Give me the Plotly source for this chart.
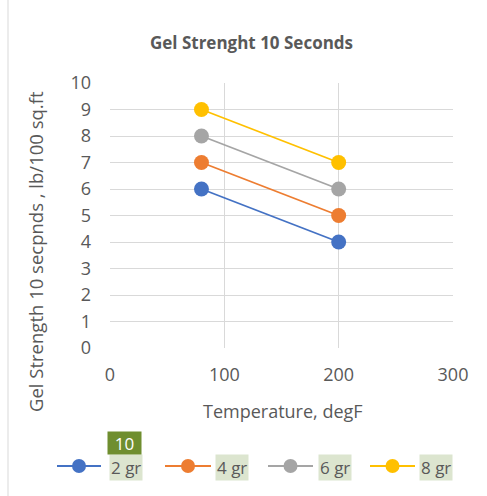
import plotly.graph_objects as go

# Gel strength (10 s) readings at two temperatures for each additive dosage
temperature_degF = [80, 200]
series_names = ["2 gr", "4 gr", "6 gr", "8 gr"]
gel_2gr = [6, 4]
gel_4gr = [7, 5]
gel_6gr = [8, 6]
gel_8gr = [9, 7]
series_colors = ["#4472C4", "#ED7D31", "#A5A5A5", "#FFC000"]

x_ticks = [0, 100, 200, 300]
y_ticks = list(range(0, 11))

FONT = "Open Sans"
TEXT = "#595959"

W, H = 487, 496
L, R, T, B = 110, 34, 83, 148
PW, PH = W - L - R, H - T - B


def px_x(p):
    """Horizontal page pixel -> paper fraction."""
    return (p - L) / PW


def px_y(p):
    """Vertical page pixel -> paper fraction."""
    return (H - B - p) / PH


fig = go.Figure()
for name, vals, col in zip(series_names, [gel_2gr, gel_4gr, gel_6gr, gel_8gr], series_colors):
    fig.add_trace(go.Scatter(
        x=temperature_degF, y=vals, name=name, mode="lines+markers",
        line=dict(color=col, width=1.8),
        marker=dict(color=col, size=15, line=dict(width=0)),
        showlegend=False,
    ))

fig.update_layout(
    width=W, height=H,
    margin=dict(l=L, r=R, t=T, b=B),
    paper_bgcolor="white", plot_bgcolor="white",
    font=dict(family=FONT, color=TEXT),
    title=dict(text="<b>Gel Strenght 10 Seconds</b>", x=px_x(251.5), xref="paper",
               xanchor="center", y=1 - 43 / H, yanchor="middle",
               font=dict(size=17, color=TEXT, family=FONT)),
    xaxis=dict(range=[0, 300], tickvals=x_ticks, showgrid=True, gridcolor="#D9D9D9",
               zeroline=False, showline=False, ticks="", tickfont=dict(size=18, color=TEXT),
               ticklabelstandoff=14),
    yaxis=dict(range=[0, 10], tickvals=y_ticks, showgrid=True, gridcolor="#D9D9D9",
               zeroline=False, showline=False, ticks="", tickfont=dict(size=18, color=TEXT),
               ticklabelstandoff=18),
    showlegend=False,
)

# axis titles
fig.add_annotation(xref="paper", yref="paper", x=px_x(282.5), y=px_y(411),
                   xanchor="center", yanchor="middle", showarrow=False,
                   text="Temperature, degF", font=dict(size=18, color=TEXT, family=FONT))
fig.add_annotation(xref="paper", yref="paper", x=px_x(35), y=px_y(252),
                   xanchor="center", yanchor="middle", showarrow=False, textangle=-90,
                   text="Gel Strength 10 secpnds , lb/100 sq.ft",
                   font=dict(size=18.5, color=TEXT, family=FONT))

# left edge of the chart frame
fig.add_shape(type="line", xref="paper", yref="paper", x0=px_x(8), x1=px_x(8),
              y0=px_y(H + 5), y1=px_y(-5), line=dict(color="#D9D9D9", width=1), layer="below")

# legend row: line sample, marker and highlighted label for each series
legend_y = 466
legend_lines = [(57, 101), (165, 211), (268, 313), (370, 415)]
legend_text_x = [109, 215, 318, 419]
for name, col, (lx0, lx1), tx in zip(series_names, series_colors, legend_lines, legend_text_x):
    fig.add_shape(type="line", xref="paper", yref="paper",
                  x0=px_x(lx0), x1=px_x(lx1), y0=px_y(legend_y), y1=px_y(legend_y),
                  line=dict(color=col, width=1.8))
    cx = px_x((lx0 + lx1) / 2)
    fig.add_shape(type="circle", xref="paper", yref="paper",
                  xsizemode="pixel", ysizemode="pixel",
                  xanchor=cx, yanchor=px_y(legend_y),
                  x0=-7, x1=7, y0=-7, y1=7,
                  fillcolor=col, line=dict(width=0))
    fig.add_annotation(xref="paper", yref="paper", x=px_x(tx), y=px_y(legend_y + 1),
                       xanchor="left", yanchor="middle", text=name, showarrow=False,
                       bgcolor="#DCE5CF", borderpad=1,
                       font=dict(size=17, color=TEXT, family=FONT))

fig.add_annotation(xref="paper", yref="paper", x=px_x(107), y=px_y(442.5),
                   xanchor="left", yanchor="middle",
                   text="10", showarrow=False, bgcolor="#6F8E2F",
                   width=27, height=16, borderpad=3,
                   font=dict(size=17, color="white", family=FONT))

fig.write_html("out.html")
